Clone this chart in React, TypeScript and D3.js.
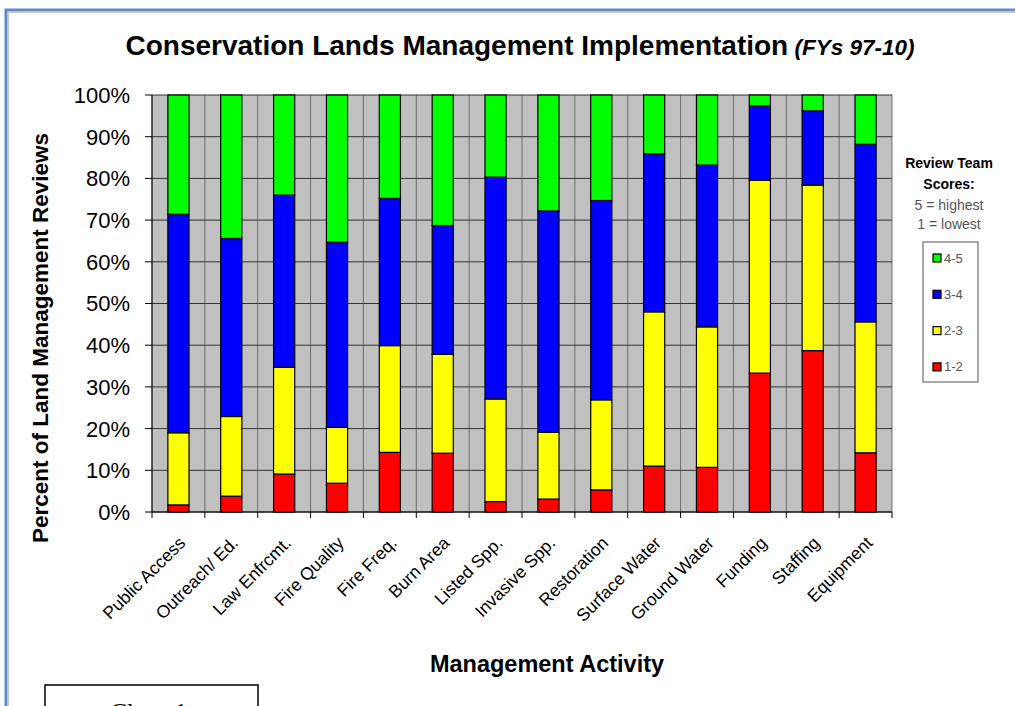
import React from 'react';
import * as d3 from 'd3';

const categories = [
  'Public Access', 'Outreach/ Ed.', 'Law Enfrcmt.', 'Fire Quality', 'Fire Freq.',
  'Burn Area', 'Listed Spp.', 'Invasive Spp.', 'Restoration', 'Surface Water',
  'Ground Water', 'Funding', 'Staffing', 'Equipment'
];

// percent of reviews in each score band
const score12 = [1.7, 3.8, 9.1, 6.9, 14.3, 14.1, 2.5, 3.1, 5.3, 11.0, 10.7, 33.3, 38.7, 14.2];
const score23 = [17.3, 19.1, 25.6, 13.4, 25.6, 23.7, 24.6, 16.0, 21.6, 37.0, 33.7, 46.3, 39.7, 31.4];
const score34 = [52.4, 42.7, 41.3, 44.4, 35.3, 30.9, 53.2, 53.1, 47.8, 37.9, 38.8, 17.8, 17.8, 42.6];
const score45 = [28.6, 34.4, 24.0, 35.3, 24.8, 31.3, 19.7, 27.8, 25.3, 14.1, 16.8, 2.6, 3.8, 11.8];

const seriesKeys = ['1-2', '2-3', '3-4', '4-5'];
const seriesColors = ['#ff0000', '#ffff00', '#0000ff', '#00ff00'];
const yTicks = [0, 10, 20, 30, 40, 50, 60, 70, 80, 90, 100];

const W = 1015;
const H = 706;
const left = 152, right = 892, top = 95, bottom = 512;
const font = 'Arial, "Liberation Sans", sans-serif';

export default function App() {
  const rows = categories.map((c, i) => ({
    cat: c,
    '1-2': score12[i],
    '2-3': score23[i],
    '3-4': score34[i],
    '4-5': score45[i]
  }));
  const stacked = d3.stack<any>().keys(seriesKeys)(rows);

  const x = d3.scaleBand<string>()
    .domain(categories)
    .range([left, right])
    .paddingInner(0.6)
    .paddingOuter(0.3);
  const y = d3.scaleLinear().domain([0, 100]).range([bottom, top]);
  const step = x.step();
  const bounds = d3.range(categories.length + 1).map(i => left + i * step);

  const legendItems = seriesKeys.slice().reverse();

  return (
    <svg width={W} height={H} style={{ position: 'absolute', left: 0, top: 0, background: '#fff' }}>
      {/* frame */}
      <rect x={6} y={10} width={W + 20} height={H + 20} fill="none" stroke="#5d89c8" strokeWidth={3} />
      <rect x={8.5} y={12.5} width={W + 20} height={H + 20} fill="none" stroke="#c8c8c8" strokeWidth={1} />

      {/* title */}
      <text x={520} y={55} textAnchor="middle" fontFamily={font} fontWeight="bold" fontSize={28} fill="#000">
        Conservation Lands Management Implementation
        <tspan fontStyle="italic" fontSize={22.5}> (FYs 97-10)</tspan>
      </text>

      {/* plot background and grid */}
      <rect x={left} y={top} width={right - left} height={bottom - top} fill="#c0c0c0" />
      {bounds.map((b, i) => (
        <line key={'v' + i} x1={b} x2={b} y1={top} y2={bottom} stroke="#6e6e6e" strokeWidth={1} />
      ))}
      {yTicks.map(t => (
        <line key={'h' + t} x1={left} x2={right} y1={y(t)} y2={y(t)} stroke="#333" strokeWidth={1} />
      ))}

      {/* bars */}
      {stacked.map((s, si) => (
        <g key={s.key} fill={seriesColors[si]} stroke="#000" strokeWidth={1.2}>
          {s.map((d, i) => (
            <rect
              key={i}
              x={x(categories[i])}
              y={y(d[1])}
              width={x.bandwidth()}
              height={y(d[0]) - y(d[1])}
            />
          ))}
        </g>
      ))}

      {/* axes */}
      <line x1={left} x2={left} y1={top} y2={bottom} stroke="#000" strokeWidth={1} />
      <line x1={left} x2={right} y1={bottom} y2={bottom} stroke="#000" strokeWidth={1} />
      {yTicks.map(t => (
        <g key={'yt' + t}>
          <line x1={left - 7} x2={left} y1={y(t)} y2={y(t)} stroke="#000" />
          <text x={130} y={y(t)} dy="0.36em" textAnchor="end" fontFamily={font} fontSize={22} fill="#000">
            {t + '%'}
          </text>
        </g>
      ))}
      {bounds.map((b, i) => (
        <line key={'xt' + i} x1={b} x2={b} y1={bottom} y2={bottom + 6} stroke="#000" />
      ))}
      {categories.map(c => {
        const cx = (x(c) as number) + x.bandwidth() / 2;
        return (
          <text
            key={c}
            transform={`translate(${cx + 8},${bottom + 32}) rotate(-45)`}
            textAnchor="end"
            fontFamily={font}
            fontSize={17.5}
            fill="#000"
          >
            {c}
          </text>
        );
      })}

      {/* axis titles */}
      <text transform="translate(48,338) rotate(-90)" textAnchor="middle" fontFamily={font} fontWeight="bold" fontSize={22.5} fill="#000">
        Percent of Land Management Reviews
      </text>
      <text x={547} y={672} textAnchor="middle" fontFamily={font} fontWeight="bold" fontSize={23.5} fill="#000">
        Management Activity
      </text>

      {/* legend */}
      <g fontFamily={font} textAnchor="middle">
        <text x={949} y={168} fontWeight="bold" fontSize={14} fill="#000">Review Team</text>
        <text x={949} y={189} fontWeight="bold" fontSize={14} fill="#000">Scores:</text>
        <text x={949} y={210} fontSize={14} fill="#555">5 = highest</text>
        <text x={949} y={229} fontSize={14} fill="#555">1 = lowest</text>
      </g>
      <rect x={923} y={242} width={55} height={140} fill="none" stroke="#555" strokeWidth={1} />
      {legendItems.map((k, i) => {
        const ly = 258 + i * 36.3;
        return (
          <g key={k}>
            <rect x={933} y={ly - 4} width={8} height={8} fill={seriesColors[seriesKeys.indexOf(k)]} stroke="#000" strokeWidth={1.2} />
            <text x={944} y={ly} dy="0.35em" fontFamily={font} fontSize={13} fill="#555">{k}</text>
          </g>
        );
      })}

      {/* caption box, cut off at bottom like the source */}
      <rect x={45} y={685} width={213} height={60} fill="#fff" stroke="#000" strokeWidth={1.5} />
      <text x={110} y={721} fontFamily='"Times New Roman", "Liberation Serif", serif' fontSize={26} fill="#000">
        Chart 1
      </text>
    </svg>
  );
}
